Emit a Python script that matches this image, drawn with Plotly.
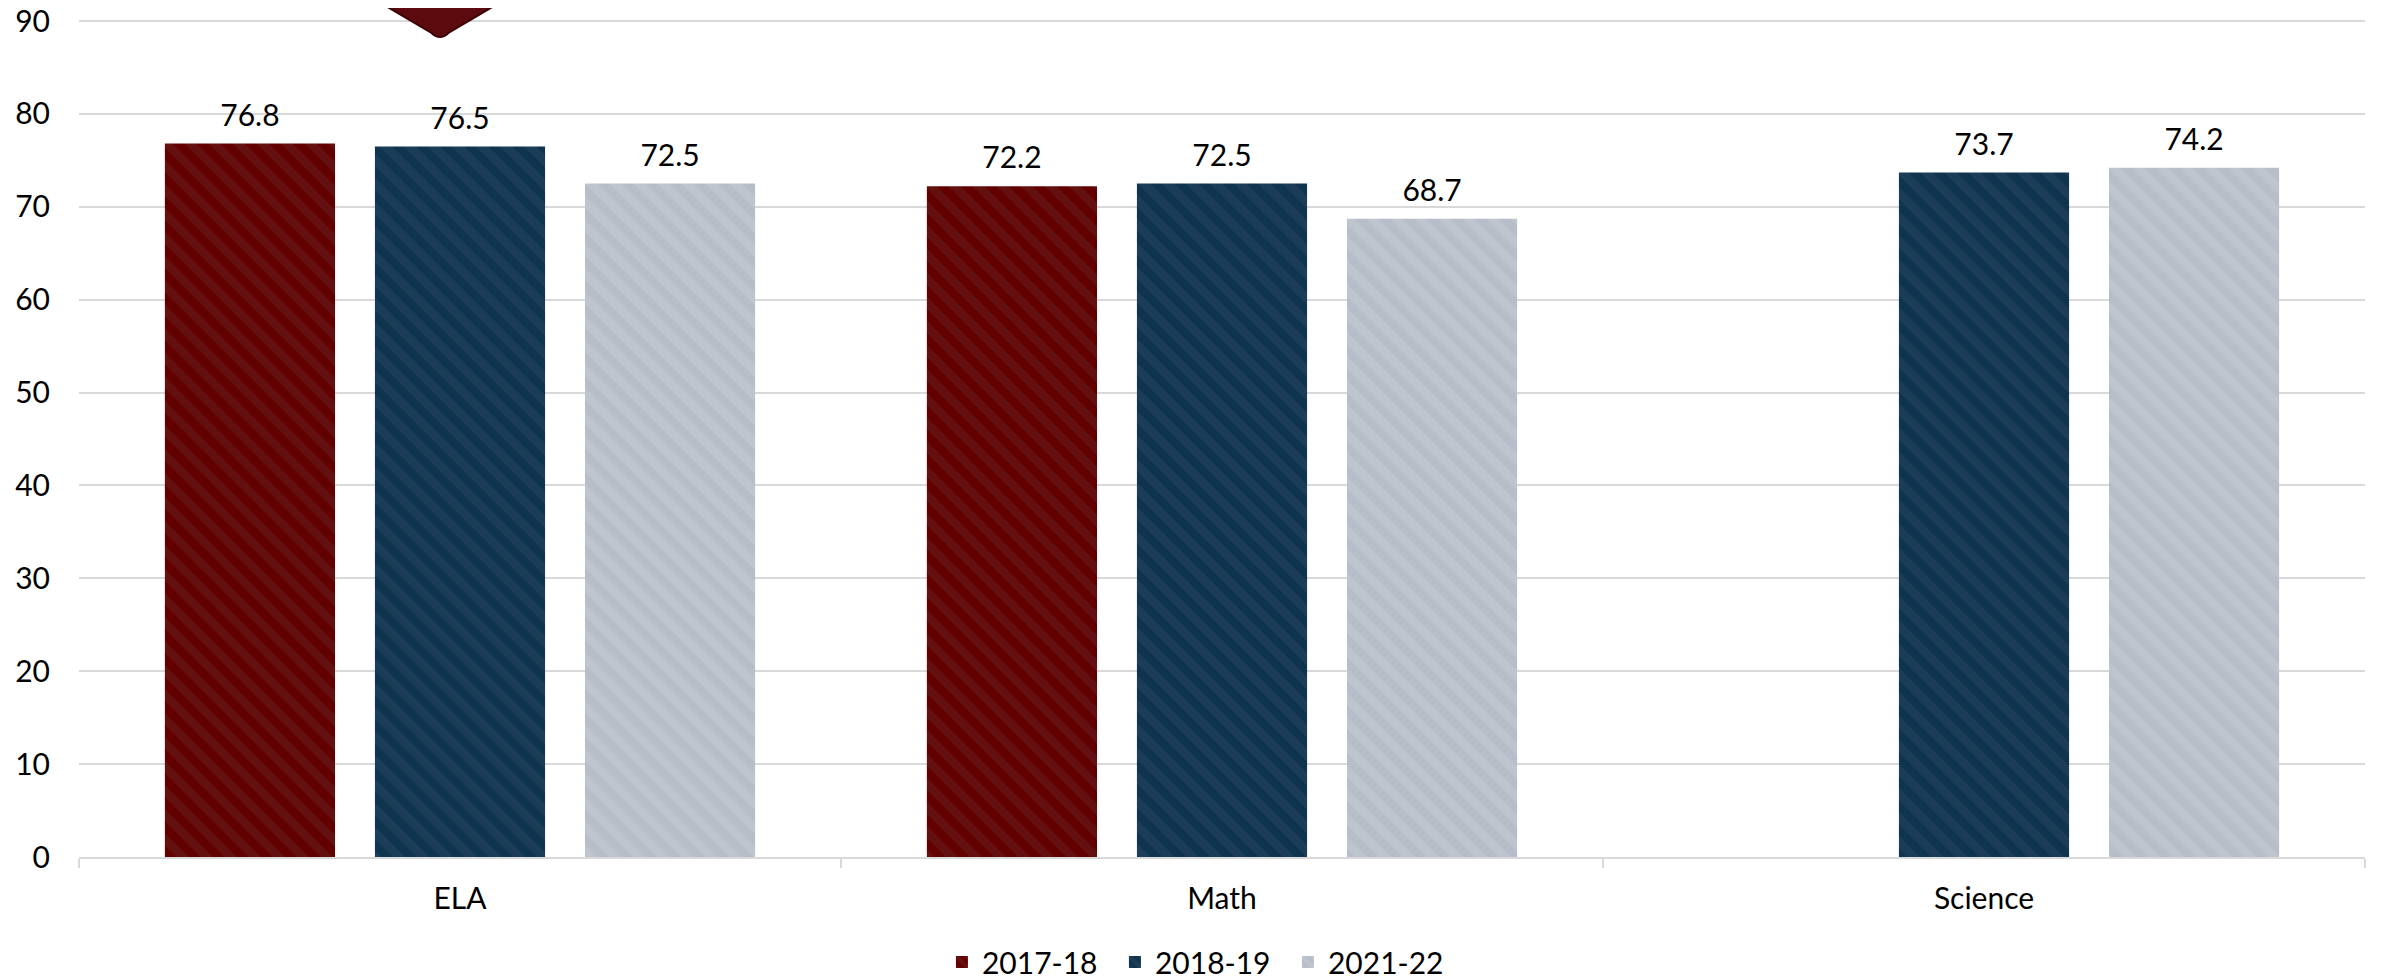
import plotly.graph_objects as go

categories = ["ELA", "Math", "Science"]
series_names = ["2017-18", "2018-19", "2021-22"]
values_2017_18 = [76.8, 72.2, None]
values_2018_19 = [76.5, 72.5, 73.7]
values_2021_22 = [72.5, 68.7, 74.2]

all_values = [values_2017_18, values_2018_19, values_2021_22]
bg_colors = ["#620000", "#0e3450", "#b7bec9"]
fg_colors = ["#67201f", "#2a4660", "#c5cbd5"]

FONT = "Lato"
BARGAP = 0.173

fig = go.Figure()
for name, vals, bg, fg in zip(series_names, all_values, bg_colors, fg_colors):
    fig.add_trace(go.Bar(
        name=name,
        x=categories,
        y=vals,
        marker=dict(
            color=bg,
            line=dict(width=0),
            pattern=dict(shape="\\", bgcolor=bg, fgcolor=fg, size=17, solidity=0.5, fillmode="overlay"),
        ),
        hoverinfo="x+y+name",
    ))

# value labels, grouped the same way as the bars
for name, vals in zip(series_names, all_values):
    fig.add_trace(go.Scatter(
        name=name + " labels",
        x=categories,
        y=vals,
        mode="markers+text",
        marker=dict(size=15, opacity=0),
        text=[("" if v is None else f"{v:.1f}") for v in vals],
        textposition="top center",
        textfont=dict(family=FONT, size=30, color="#000000"),
        cliponaxis=False,
        showlegend=False,
        hoverinfo="skip",
    ))

# decorative diamond partially visible at top
fig.add_shape(
    type="path",
    xref="paper", yref="paper",
    path="M 0.1283 1.0118 L 0.1542 0.9706 Q 0.1579 0.9611 0.1616 0.9706 L 0.1875 1.0118 Z",
    fillcolor="#5c0a0e",
    line=dict(color="#3a0406", width=2),
    layer="above",
)

fig.update_layout(
    width=2382, height=977,
    margin=dict(l=71, r=25, t=0, b=128, autoexpand=False),
    paper_bgcolor="white",
    plot_bgcolor="white",
    barmode="group",
    bargap=BARGAP,
    bargroupgap=0.19,
    scattermode="group",
    scattergap=BARGAP,
    font=dict(family=FONT, size=30, color="#000000"),
    showlegend=True,
    legend=dict(
        orientation="h",
        x=0.491, xanchor="center",
        y=-0.1237, yanchor="middle",
        font=dict(family=FONT, size=30, color="#000000"),
        itemwidth=30,
        entrywidth=128,
        traceorder="normal",
    ),
    xaxis=dict(
        type="category",
        automargin=False,
        showline=True, linecolor="#d9d9d9", linewidth=2,
        ticks="outside", tickson="boundaries", ticklen=9, tickcolor="#d9d9d9", tickwidth=2,
        tickfont=dict(family=FONT, size=30, color="#000000"),
        ticklabelstandoff=14,
        showgrid=False,
    ),
    yaxis=dict(
        range=[0, 91.4],
        automargin=False,
        tickvals=[0, 10, 20, 30, 40, 50, 60, 70, 80, 90],
        showgrid=True, gridcolor="#d9d9d9", gridwidth=2,
        zeroline=False,
        showline=False,
        ticks="",
        tickfont=dict(family=FONT, size=30, color="#000000"),
        ticklabelstandoff=28,
        ticklabeloverflow="allow",
    ),
)

fig.write_html("out.html")
